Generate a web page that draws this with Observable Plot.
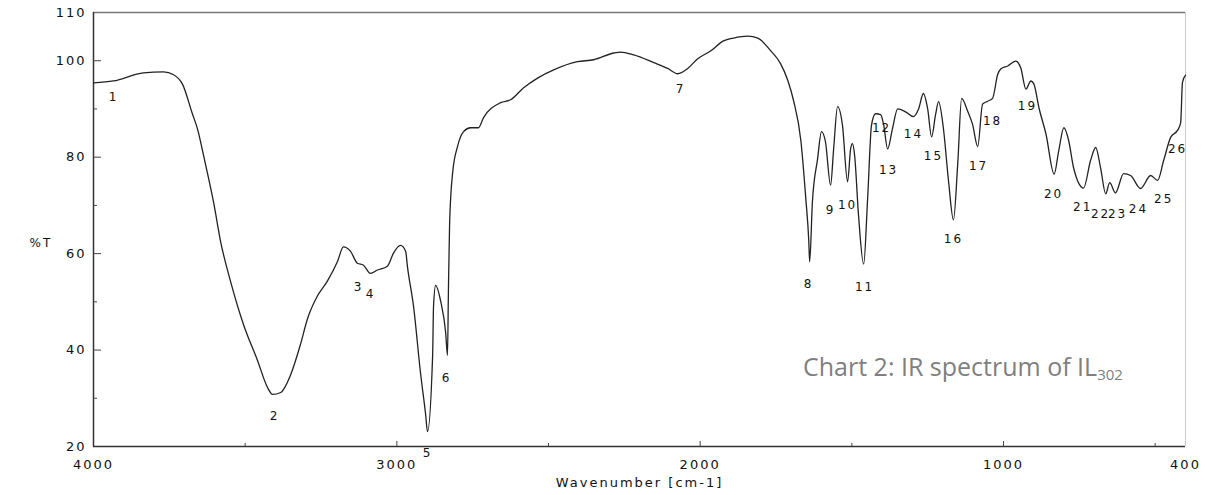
<!DOCTYPE html>
<html><head><meta charset="utf-8">
<script src="https://cdn.jsdelivr.net/npm/d3@7"></script>
<script src="https://cdn.jsdelivr.net/npm/@observablehq/plot@0.6"></script>
<style>
body{margin:0;background:#fff;}
#wrap{position:relative;width:1219px;height:495px;overflow:hidden;}
#chart svg text{letter-spacing:2px;}
#caption{position:absolute;left:803px;top:354px;font-family:"Open Sans";font-size:25px;line-height:25px;color:#7f7f7f;white-space:nowrap;}
#caption sub{font-size:15px;vertical-align:-4px;line-height:0;}
</style></head><body>
<div id="wrap"><div id="chart"></div><div id="caption">Chart 2: IR spectrum of IL<sub>302</sub></div></div>
<script>
const wavenumber = [4000,3934,3835,3769,3736,3707,3674,3657,3637,3604,3581,3548,3505,3459,3426,3410,3383,3350,3318,3294,3261,3229,3196,3176,3153,3130,3110,3087,3064,3031,3011,2988,2971,2965,2945,2922,2905,2899,2882,2879,2872,2856,2839,2833,2830,2826,2816,2800,2780,2757,2731,2714,2658,2625,2582,2536,2483,2404,2351,2285,2262,2219,2153,2107,2074,2041,2008,1966,1923,1890,1843,1810,1768,1735,1711,1692,1668,1652,1642,1639,1630,1613,1600,1587,1570,1560,1547,1531,1514,1504,1498,1491,1478,1461,1448,1435,1422,1405,1395,1382,1366,1349,1323,1297,1280,1264,1250,1237,1224,1214,1198,1181,1165,1151,1138,1118,1102,1085,1069,1052,1036,1019,1009,986,960,943,926,910,900,883,860,833,818,801,785,769,736,713,696,680,663,650,631,604,581,548,515,492,472,449,426,416,410,400];
const transmittance = [95.4,95.8,97.5,97.7,97.1,95.2,89,85.8,80.3,70.6,62.5,54.2,45.2,37.8,32.2,30.8,31.2,34.9,41.1,46.6,51.3,54.3,58.3,61.4,60.5,58,57.6,55.9,56.6,57.4,60.1,61.7,60.5,57.3,49.1,35.3,26.6,23.1,38.9,49.1,53.4,50.3,43.6,38.9,52,66.3,76.8,82.2,85.3,86.1,86.1,88.2,91.3,91.9,94.4,96.4,98.1,99.8,100.2,101.6,101.8,101.2,99.6,98.4,97.3,98.4,100.4,102,104.1,104.7,105.1,104.7,102.1,99.4,95.9,91.7,83.4,71.6,62.7,58.3,70.7,79.6,85.3,83.2,74.2,81.7,90.5,86.7,74.9,81.7,82.8,80.5,68,57.8,71.3,86.7,89,88.8,86.7,81.7,85.9,90,89.4,88.4,90,93.2,90,84.2,88.8,91.5,85.9,74.9,67,78.5,92.2,89.5,86.8,82.2,91,91.6,92.2,97.2,98.3,98.9,99.9,98.5,94.1,95.8,95.2,90.2,84.8,76.5,81.3,86.1,83.4,77.8,73.6,79.3,82,77.8,72.4,74.7,72.6,76.6,76.2,73.5,76.2,75.2,79.3,84.1,85.6,87.1,95.5,97];

const peakNumbers = ["1","2","3","4","5","6","7","8","9","10","11","12","13","14","15","16","17","18","19","20","21","22","23","24","25","26"];
const peakLabelWn = [3934,3403,3126,3087,2899,2836,2065,1643,1570,1514,1458,1402,1379,1297,1231,1165,1082,1036,921,835,739,680,624,555,472,426];
const peakLabelT = [92.5,26.3,53,51.6,18.7,34.2,94.2,53.7,69,70,53,86,77.4,84.7,80.2,63.1,78.1,87.4,90.5,72.4,69.7,68.2,68.2,69.3,71.2,81.6];

const yTickLabels = [20,40,60,80,100,110];
const yMajorTicks = [40,60,80,100];
const yMinorTicks = [30,50,70,90];
const xTickLabels = [4000,3000,2000,1000,400];
const xMajorTicks = [3000,2000,1000];
const xMinorTicks = [3500,2500,1500,500];

const spectrum = wavenumber.map((w,i)=>({w, t: transmittance[i]}));
const peaks = peakNumbers.map((n,i)=>({n, w: peakLabelWn[i], t: peakLabelT[i]}));

const W = 1219, H = 495, mL = 93, mR = 34, mT = 12, mB = 49;
const innerW = W - mL - mR, innerH = H - mT - mB;

const chart = Plot.plot({
  width: W, height: H,
  marginLeft: mL, marginRight: mR, marginTop: mT, marginBottom: mB,
  style: {fontFamily: "DejaVu Sans", fontSize: "13px", color: "#111", background: "#fff"},
  x: {domain: [4000, 400]},
  y: {domain: [20, 110]},
  marks: [
    Plot.ruleY([110], {stroke: "#777", strokeWidth: 1.3}),
    Plot.ruleX([400], {stroke: "#ccc", strokeWidth: 1}),
    Plot.ruleX([4000], {stroke: "#333", strokeWidth: 1.5}),
    Plot.ruleY([20], {stroke: "#333", strokeWidth: 1.5}),
    Plot.tickY(yMajorTicks, {y: d => d, insetRight: innerW - 8, stroke: "#444"}),
    Plot.tickY(yMinorTicks, {y: d => d, insetRight: innerW - 4, stroke: "#444"}),
    Plot.tickX(xMajorTicks, {x: d => d, insetTop: innerH - 5, stroke: "#444"}),
    Plot.tickX(xMinorTicks, {x: d => d, insetTop: innerH - 3, stroke: "#444"}),
    Plot.axisY({ticks: yTickLabels, tickSize: 0, tickPadding: 7, tickFormat: d => String(d), label: null, fontSize: 13}),
    Plot.axisX({ticks: xTickLabels, tickSize: 0, tickPadding: 13, tickFormat: d => String(d), label: null, fontSize: 13}),
    Plot.line(spectrum, {x: "w", y: "t", stroke: "#222", strokeWidth: 1.3, curve: "monotone-x"}),
    Plot.text(peaks, {x: "w", y: "t", text: "n", fontSize: 12, fill: "#111"}),
    Plot.text(["%T"], {frameAnchor: "left", dx: -64, dy: 14, fontSize: 12}),
    Plot.text(["Wavenumber [cm-1]"], {frameAnchor: "bottom", dy: 40, fontSize: 13})
  ]
});
document.getElementById("chart").appendChild(chart);
</script>
</body></html>
